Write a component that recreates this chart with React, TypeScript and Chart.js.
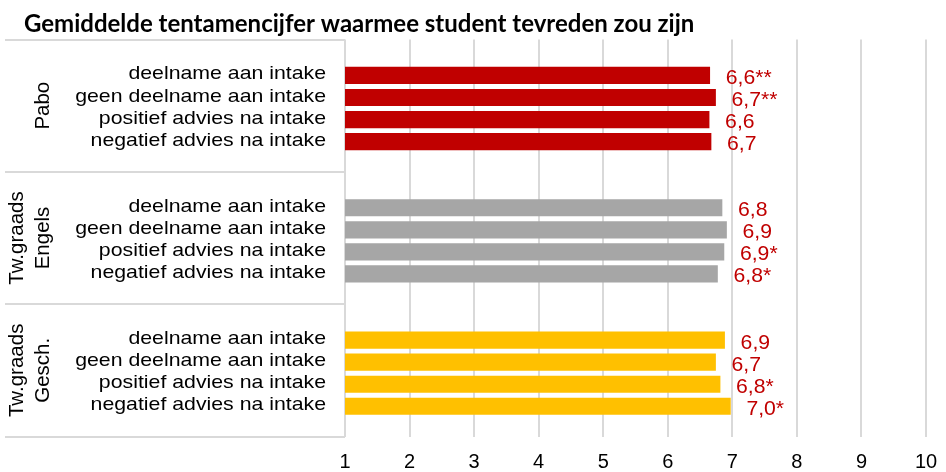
import React, { useEffect, useRef } from 'react';
import { Chart, registerables } from 'chart.js';

Chart.register(...registerables);

// ---- data ----
const title = 'Gemiddelde tentamencijfer waarmee student tevreden zou zijn';
const groupNames: string[][] = [['Pabo'], ['Tw.graads', 'Engels'], ['Tw.graads', 'Gesch.']];
const categories = [
  'deelname aan intake',
  'geen deelname aan intake',
  'positief advies na intake',
  'negatief advies na intake',
];
const paboValues = [6.65, 6.74, 6.64, 6.67];
const engelsValues = [6.84, 6.91, 6.87, 6.77];
const geschValues = [6.88, 6.74, 6.81, 6.97];
const paboLabels = ['6,6**', '6,7**', '6,6', '6,7'];
const engelsLabels = ['6,8', '6,9', '6,9*', '6,8*'];
const geschLabels = ['6,9', '6,7', '6,8*', '7,0*'];
const xTickValues = [1, 2, 3, 4, 5, 6, 7, 8, 9, 10];
const groupColors = ['#C00000', '#A6A6A6', '#FFC000'];

const groupValues = [paboValues, engelsValues, geschValues];
const groupLabels = [paboLabels, engelsLabels, geschLabels];
const SLOTS_PER_GROUP = 6;
const slotIndex = (g: number, i: number) => g * SLOTS_PER_GROUP + 1 + i;

const SANS = '"Liberation Sans", Arial, sans-serif';
const LABEL_RED = '#C00000';
const LINE_GRAY = '#D9D9D9';

function drawText(
  ctx: CanvasRenderingContext2D,
  text: string,
  x: number,
  y: number,
  font: string,
  color: string,
  align: CanvasTextAlign,
  baseline: CanvasTextBaseline,
  sx = 1,
  rotate = 0
) {
  ctx.save();
  ctx.translate(x, y);
  if (rotate) ctx.rotate(rotate);
  ctx.scale(sx, 1);
  ctx.font = font;
  ctx.fillStyle = color;
  ctx.textAlign = align;
  ctx.textBaseline = baseline;
  ctx.fillText(text, 0, 0);
  ctx.restore();
}

const decorPlugin = {
  id: 'decor',
  afterDraw(chart: any) {
    const ctx: CanvasRenderingContext2D = chart.ctx;
    const { top, bottom, left } = chart.chartArea;
    const xs = chart.scales.x;
    const ys = chart.scales.y;
    const h3 = (bottom - top) / 3;

    // title
    drawText(ctx, title, 24, 32, 'bold 24px Lato, "Liberation Sans", sans-serif', '#000', 'left', 'alphabetic');

    // group boxes
    ctx.save();
    ctx.strokeStyle = LINE_GRAY;
    ctx.lineWidth = 2;
    for (let k = 0; k <= 3; k++) {
      const y = Math.round(top + k * h3);
      ctx.beginPath();
      ctx.moveTo(5, y);
      ctx.lineTo(left, y);
      ctx.stroke();
    }
    ctx.restore();

    groupNames.forEach((lines, g) => {
      const cy = top + (g + 0.5) * h3;
      const xsPos = lines.length === 1 ? [43.4] : [17.8, 43.2];
      lines.forEach((ln, j) => {
        drawText(ctx, ln, xsPos[j], cy, `20.5px ${SANS}`, '#000', 'center', 'middle', 1, -Math.PI / 2);
      });
    });

    // category labels and data labels
    groupValues.forEach((vals, g) => {
      vals.forEach((v, i) => {
        const cy = ys.getPixelForValue(slotIndex(g, i));
        drawText(ctx, categories[i], left - 19, cy + 4, `19px ${SANS}`, '#000', 'right', 'alphabetic', 1.12);
        const xEnd = xs.getPixelForValue(v);
        drawText(ctx, groupLabels[g][i], xEnd + 16, cy + 8.5, `20px ${SANS}`, LABEL_RED, 'left', 'alphabetic', 1.06);
      });
    });

    // x tick labels
    xTickValues.forEach((t) => {
      drawText(ctx, String(t), xs.getPixelForValue(t), 468, `20px ${SANS}`, '#000', 'center', 'alphabetic');
    });
  },
};

export default function App() {
  const ref = useRef<HTMLCanvasElement>(null);

  useEffect(() => {
    if (!ref.current) return;
    const datasets = groupValues.map((vals, g) => ({
      data: vals.map((v, i) => ({ x: v, y: slotIndex(g, i) })),
      backgroundColor: groupColors[g],
      borderWidth: 0,
      barThickness: 16.5,
      grouped: false,
    }));
    const chart = new Chart(ref.current, {
      type: 'bar',
      data: { datasets } as any,
      options: {
        indexAxis: 'y',
        responsive: false,
        animation: false,
        devicePixelRatio: 1,
        layout: { padding: { left: 345, right: 20, top: 39.5, bottom: 35.5 } },
        plugins: {
          legend: { display: false },
          tooltip: { enabled: false },
          title: { display: false },
        },
        scales: {
          x: {
            type: 'linear',
            min: 1,
            max: 10,
            display: true,
            ticks: { display: false, stepSize: 1 },
            grid: { color: LINE_GRAY, lineWidth: 2, drawTicks: false },
            border: { display: false },
          },
          y: {
            type: 'linear',
            min: -0.63,
            max: 17.37,
            reverse: true,
            offset: false,
            display: false,
          },
        },
      } as any,
      plugins: [decorPlugin],
    });
    return () => chart.destroy();
  }, []);

  return (
    <div style={{ position: 'absolute', left: 0, top: 0, width: 946, height: 472, background: '#fff' }}>
      <canvas ref={ref} width={946} height={472} style={{ display: 'block', width: 946, height: 472 }} />
    </div>
  );
}
